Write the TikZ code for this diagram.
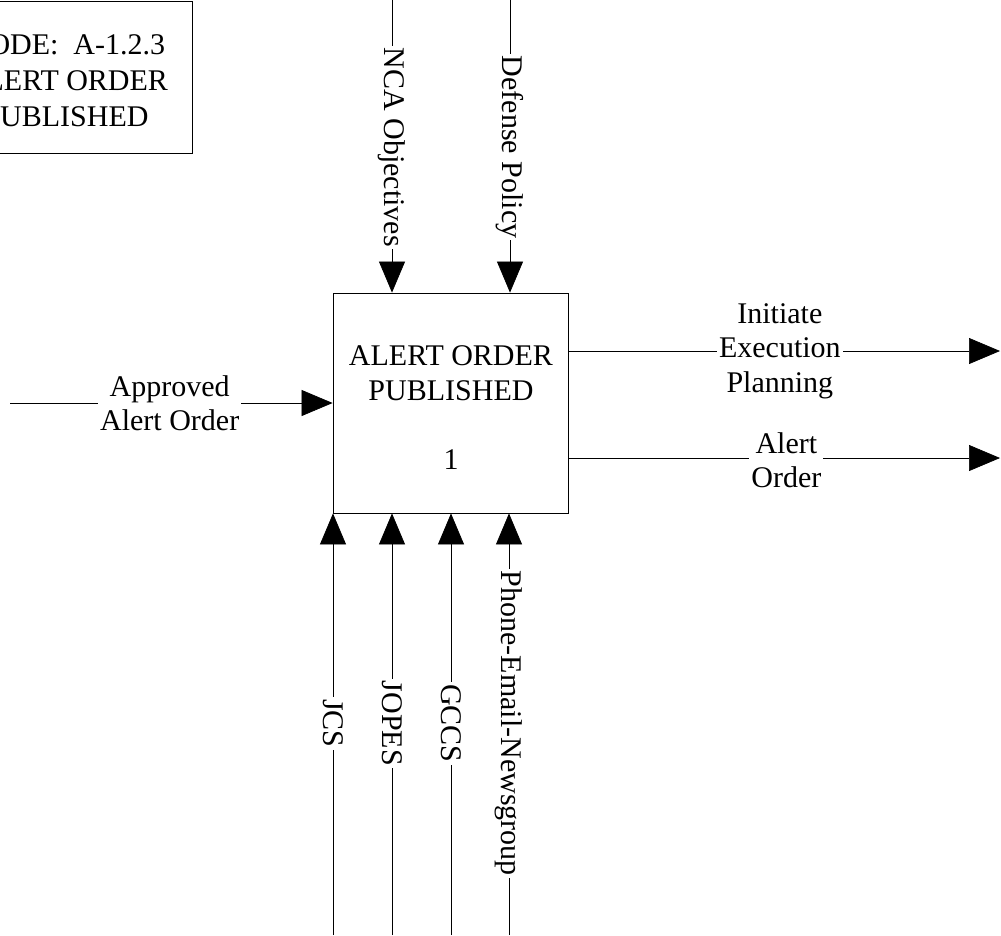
\documentclass[tikz,border=0pt]{standalone}
\usepackage{fontspec}
\setmainfont{Liberation Serif}
\usetikzlibrary{arrows.meta}
\begin{document}
\begin{tikzpicture}[x=1pt,y=-1pt,
  txt/.style={font=\fontsize{30}{34.5}\selectfont, align=center, inner sep=2pt},
  lbl/.style={txt, fill=white},
  vlbl/.style={lbl, rotate=-90},
  frame/.style={draw, line width=0.8pt},
  flow/.style={line width=0.7pt, -{Triangle[length=31pt,width=26pt]}}]
\useasboundingbox (0,0) rectangle (1001,935);
\clip (0,0) rectangle (1001,935);
% title box
\node[frame, minimum width=252pt, minimum height=152pt, inner sep=0pt] (tbox) at (66,77) {};
\node[txt, font=\fontsize{30}{36}\selectfont] (ttext) at (66,81) {NODE:~~A-1.2.3\\ALERT ORDER\\PUBLISHED};
% activity box
\node[frame, minimum width=235pt, minimum height=220pt, inner sep=0pt] (box) at (450.5,403) {};
\node[txt] (btitle) at (451,373) {ALERT ORDER\\PUBLISHED};
\node[txt] (bnum) at (451,460) {1};
% controls (top)
\coordinate (nca) at (392,0);
\coordinate (def) at (510,0);
\draw[flow] (nca) -- node[vlbl, pos=0.503] (lnca) {NCA Objectives} (nca |- box.north);
\draw[flow] (def) -- node[vlbl, pos=0.503] (ldef) {Defense Policy} (def |- box.north);
% input (left)
\coordinate (in1) at (10,403);
\draw[flow] (in1) -- node[lbl, pos=0.495] (lin1) {Approved\\Alert Order} (in1 -| box.west);
% outputs (right)
\coordinate (o1) at (1000,351);
\coordinate (o2) at (1000,458);
\draw[flow] (o1 -| box.east) -- node[lbl, pos=0.49] (lo1) {Initiate\\Execution\\Planning} (o1);
\draw[flow] (o2 -| box.east) -- node[lbl, pos=0.505, yshift=-2pt] (lo2) {Alert\\Order} (o2);
% mechanisms (bottom)
\coordinate (jcs) at (333,935);
\coordinate (jopes) at (392,935);
\coordinate (gccs) at (451,935);
\coordinate (phone) at (509,935);
\draw[flow] (jcs) -- node[vlbl, pos=0.502] (ljcs) {JCS} (jcs |- box.south);
\draw[flow] (jopes) -- node[vlbl, pos=0.502] (ljopes) {JOPES} (jopes |- box.south);
\draw[flow] (gccs) -- node[vlbl, pos=0.502] (lgccs) {GCCS} (gccs |- box.south);
\draw[flow] (phone) -- node[vlbl, pos=0.502] (lphone) {Phone-Email-Newsgroup} (phone |- box.south);
\end{tikzpicture}
\end{document}
